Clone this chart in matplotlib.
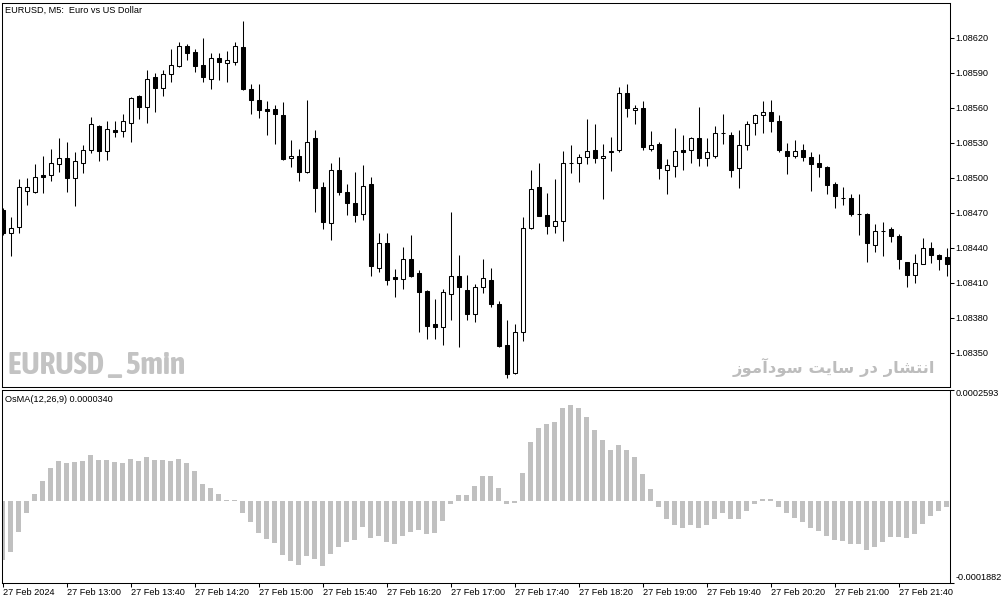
import matplotlib
matplotlib.use('Agg')
import matplotlib.pyplot as plt
from matplotlib.patches import Rectangle
from matplotlib import font_manager

plt.rcParams['font.family'] = ['Liberation Sans', 'DejaVu Sans']

# ---------------- data (EURUSD M5, 27 Feb 2024) ----------------
opens = [1.08472, 1.08453, 1.08458, 1.08489, 1.08488, 1.08502, 1.08502, 1.08512, 1.08517, 1.08500,
         1.08513, 1.08524, 1.08544, 1.08523, 1.08541, 1.08540, 1.08547, 1.08570, 1.08561, 1.08586,
         1.08577, 1.08589, 1.08596, 1.08613, 1.08608, 1.08597, 1.08585, 1.08603, 1.08598, 1.08599,
         1.08612, 1.08576, 1.08567, 1.08559, 1.08559, 1.08554, 1.08517, 1.08519, 1.08505, 1.08534,
         1.08492, 1.08461, 1.08507, 1.08488, 1.08478, 1.08469, 1.08495, 1.08423, 1.08444, 1.08415,
         1.08413, 1.08430, 1.08418, 1.08403, 1.08375, 1.08372, 1.08400, 1.08416, 1.08404, 1.08383,
         1.08406, 1.08412, 1.08392, 1.08357, 1.08333, 1.08368, 1.08457, 1.08492, 1.08468, 1.08459,
         1.08463, 1.08513, 1.08513, 1.08518, 1.08524, 1.08517, 1.08522, 1.08524, 1.08573, 1.08558,
         1.08560, 1.08525, 1.08529, 1.08507, 1.08510, 1.08524, 1.08524, 1.08534, 1.08517, 1.08519,
         1.08538, 1.08537, 1.08508, 1.08528, 1.08547, 1.08554, 1.08556, 1.08549, 1.08523, 1.08519,
         1.08524, 1.08518, 1.08513, 1.08509, 1.08495, 1.08483, 1.08483, 1.08469, 1.08469, 1.08442,
         1.08454, 1.08456, 1.08450, 1.08428, 1.08417, 1.08426, 1.08440, 1.08434, 1.08432]
highs = [1.08474, 1.08466, 1.08499, 1.08500, 1.08512, 1.08519, 1.08525, 1.08534, 1.08531, 1.08522,
         1.08528, 1.08552, 1.08545, 1.08549, 1.08549, 1.08555, 1.08569, 1.08571, 1.08592, 1.08590,
         1.08592, 1.08610, 1.08616, 1.08615, 1.08610, 1.08620, 1.08607, 1.08607, 1.08609, 1.08616,
         1.08634, 1.08580, 1.08580, 1.08566, 1.08562, 1.08565, 1.08532, 1.08525, 1.08567, 1.08541,
         1.08496, 1.08513, 1.08518, 1.08495, 1.08505, 1.08511, 1.08501, 1.08453, 1.08453, 1.08422,
         1.08441, 1.08451, 1.08421, 1.08404, 1.08396, 1.08405, 1.08471, 1.08434, 1.08417, 1.08409,
         1.08430, 1.08423, 1.08394, 1.08378, 1.08375, 1.08466, 1.08507, 1.08513, 1.08487, 1.08499,
         1.08523, 1.08528, 1.08520, 1.08550, 1.08546, 1.08529, 1.08535, 1.08578, 1.08580, 1.08562,
         1.08566, 1.08540, 1.08531, 1.08516, 1.08543, 1.08537, 1.08535, 1.08561, 1.08534, 1.08544,
         1.08555, 1.08539, 1.08541, 1.08549, 1.08555, 1.08566, 1.08567, 1.08554, 1.08530, 1.08532,
         1.08529, 1.08522, 1.08520, 1.08510, 1.08496, 1.08492, 1.08486, 1.08486, 1.08470, 1.08460,
         1.08462, 1.08458, 1.08452, 1.08428, 1.08435, 1.08448, 1.08445, 1.08435, 1.08440]
lows = [1.08451, 1.08433, 1.08453, 1.08477, 1.08487, 1.08487, 1.08497, 1.08505, 1.08488, 1.08476,
        1.08504, 1.08521, 1.08514, 1.08515, 1.08535, 1.08535, 1.08531, 1.08550, 1.08547, 1.08556,
        1.08570, 1.08582, 1.08595, 1.08601, 1.08591, 1.08582, 1.08576, 1.08584, 1.08582, 1.08597,
        1.08575, 1.08555, 1.08551, 1.08537, 1.08529, 1.08515, 1.08509, 1.08497, 1.08504, 1.08471,
        1.08456, 1.08447, 1.08485, 1.08468, 1.08462, 1.08464, 1.08416, 1.08419, 1.08408, 1.08398,
        1.08405, 1.08415, 1.08368, 1.08362, 1.08362, 1.08357, 1.08378, 1.08355, 1.08378, 1.08376,
        1.08401, 1.08389, 1.08355, 1.08328, 1.08332, 1.08360, 1.08456, 1.08467, 1.08452, 1.08453,
        1.08446, 1.08504, 1.08496, 1.08512, 1.08513, 1.08482, 1.08506, 1.08522, 1.08552, 1.08546,
        1.08524, 1.08523, 1.08499, 1.08486, 1.08501, 1.08507, 1.08513, 1.08510, 1.08510, 1.08517,
        1.08529, 1.08501, 1.08491, 1.08524, 1.08537, 1.08538, 1.08539, 1.08522, 1.08503, 1.08517,
        1.08514, 1.08489, 1.08501, 1.08486, 1.08474, 1.08477, 1.08467, 1.08451, 1.08428, 1.08436,
        1.08433, 1.08445, 1.08422, 1.08406, 1.08410, 1.08426, 1.08427, 1.08421, 1.08416]
closes = [1.08453, 1.08457, 1.08492, 1.08492, 1.08501, 1.08501, 1.08513, 1.08517, 1.08500, 1.08514,
          1.08524, 1.08546, 1.08523, 1.08542, 1.08539, 1.08549, 1.08568, 1.08561, 1.08585, 1.08577,
          1.08589, 1.08597, 1.08613, 1.08607, 1.08596, 1.08586, 1.08603, 1.08599, 1.08601, 1.08613,
          1.08576, 1.08567, 1.08558, 1.08557, 1.08555, 1.08516, 1.08519, 1.08505, 1.08531, 1.08491,
          1.08462, 1.08507, 1.08488, 1.08478, 1.08468, 1.08493, 1.08424, 1.08444, 1.08412, 1.08413,
          1.08430, 1.08416, 1.08402, 1.08373, 1.08372, 1.08402, 1.08416, 1.08406, 1.08383, 1.08406,
          1.08414, 1.08392, 1.08356, 1.08332, 1.08368, 1.08457, 1.08490, 1.08467, 1.08459, 1.08463,
          1.08513, 1.08513, 1.08518, 1.08523, 1.08517, 1.08519, 1.08523, 1.08573, 1.08560, 1.08560,
          1.08526, 1.08528, 1.08508, 1.08511, 1.08523, 1.08522, 1.08534, 1.08517, 1.08522, 1.08538,
          1.08538, 1.08507, 1.08528, 1.08546, 1.08554, 1.08556, 1.08549, 1.08524, 1.08519, 1.08523,
          1.08518, 1.08512, 1.08509, 1.08494, 1.08484, 1.08483, 1.08469, 1.08469, 1.08444, 1.08454,
          1.08454, 1.08450, 1.08430, 1.08417, 1.08427, 1.08440, 1.08434, 1.08430, 1.08426]

# OsMA(12,26,9) histogram values, in units of 1e-5
osma_e5 = [-13.5, -11.7, -7.0, -2.8, 1.6, 4.8, 7.7, 9.3, 8.8, 9.1,
           9.3, 10.7, 9.5, 9.5, 9.1, 8.8, 9.8, 9.3, 10.2, 9.5,
           9.5, 9.3, 9.8, 8.8, 7.0, 4.1, 3.2, 1.8, 0.4, 0.4,
           -2.6, -4.9, -7.3, -8.7, -9.6, -12.4, -13.8, -14.8, -12.7, -13.4,
           -15.0, -12.2, -10.5, -9.4, -8.9, -5.9, -8.4, -8.0, -9.4, -9.8,
           -8.0, -7.0, -6.6, -7.5, -7.3, -4.5, -0.7, 1.4, 1.4, 3.5,
           5.9, 5.9, 3.0, -0.7, -0.5, 6.6, 13.8, 16.9, 18.0, 18.3,
           21.6, 22.3, 21.6, 19.5, 16.6, 14.3, 12.0, 13.1, 12.0, 10.3,
           6.3, 2.8, -1.2, -4.0, -5.4, -6.1, -5.6, -6.1, -5.6, -4.0,
           -2.8, -4.2, -4.0, -2.3, -0.7, 0.5, 0.5, -1.2, -2.8, -3.8,
           -4.9, -6.1, -6.8, -8.0, -8.9, -9.1, -9.8, -9.8, -11.3, -10.5,
           -9.4, -8.2, -8.2, -8.4, -7.5, -5.2, -3.5, -2.3, -1.4]

price_ticks = [1.08350, 1.08380, 1.08410, 1.08440, 1.08470, 1.08500, 1.08530, 1.08560, 1.08590, 1.08620]
price_labels = ['1.08350', '1.08380', '1.08410', '1.08440', '1.08470', '1.08500', '1.08530',
                '1.08560', '1.08590', '1.08620']
time_pos = [0, 8, 16, 24, 32, 40, 48, 56, 64, 72, 80, 88, 96, 104, 112]
time_labels = ['27 Feb 2024', '27 Feb 13:00', '27 Feb 13:40', '27 Feb 14:20', '27 Feb 15:00',
               '27 Feb 15:40', '27 Feb 16:20', '27 Feb 17:00', '27 Feb 17:40', '27 Feb 18:20',
               '27 Feb 19:00', '27 Feb 19:40', '27 Feb 20:20', '27 Feb 21:00', '27 Feb 21:40']
osma_max, osma_min = 0.0002593, -0.0001882
osma_max_label, osma_min_label = '0.0002593', '-0.0001882'
title = 'EURUSD, M5:  Euro vs US Dollar'
osma_title = 'OsMA(12,26,9) 0.0000340'
watermark_left = 'EURUSD _ 5min'
# "انتشار در سایت سودآموز" written with Arabic presentation forms in visual order
watermark_right = '\uFEAF\uFEEE\uFEE3\uFE81\uFEA9\uFEEE\uFEB3 \uFE96\uFBFE\uFE8E\uFEB3 \uFEAD\uFEA9 \uFEAD\uFE8E\uFEB8\uFE98\uFEE7\uFE8D'

# pick the narrowest bold face available for the left watermark
narrow_family = None
for f in font_manager.fontManager.ttflist:
    nm = f.name.lower()
    if ('condensed' in nm or 'narrow' in nm) and f.weight in ('bold', 700, 'heavy', 800, 900):
        narrow_family = f.name
        break
if narrow_family is None:
    for f in font_manager.fontManager.ttflist:
        st = str(f.stretch).lower()
        if 'condensed' in st or 'narrow' in st or 'condensed' in f.name.lower():
            narrow_family = f.name
            break
if narrow_family is None:
    narrow_family = 'Liberation Sans'

# ---------------- layout ----------------
W, H = 1003, 603
fig = plt.figure(figsize=(W / 100, H / 100), dpi=100)
fig.patch.set_facecolor('white')


def rect(x0, y0, x1, y1):
    return [x0 / W, 1 - y1 / H, (x1 - x0) / W, (y1 - y0) / H]


ax1 = fig.add_axes(rect(1.5, 2.5, 950, 387))
ax2 = fig.add_axes(rect(1.5, 389.5, 950, 582.5))

n = len(opens)
xs = list(range(n))
xlim = (-0.15, 118.41)
lw = 0.75
fs = 6.6

# candles
ax1.vlines(xs, lows, highs, color='black', linewidth=lw, zorder=2)
bw = 0.52
for i in range(n):
    o, c = opens[i], closes[i]
    lo, hi = min(o, c), max(o, c)
    face = 'white' if c > o else 'black'
    ax1.add_patch(Rectangle((i - bw / 2, lo), bw, hi - lo, facecolor=face,
                            edgecolor='black', linewidth=lw, zorder=3))

ax1.set_xlim(*xlim)
ax1.set_ylim(1.083206, 1.086502)
ax1.yaxis.tick_right()
ax1.set_yticks(price_ticks)
ax1.set_yticklabels(price_labels)
ax1.set_xticks([])
ax1.tick_params(axis='y', direction='out', length=3, width=lw, labelsize=fs, pad=1.2, colors='black')

# OsMA histogram
osma_vals = [v * 1e-5 for v in osma_e5]
ax2.bar(xs, osma_vals, width=0.62, color='#c0c0c0', linewidth=0, zorder=2)
ax2.set_xlim(*xlim)
ax2.set_ylim(osma_min, osma_max)
ax2.yaxis.tick_right()
ax2.set_yticks([osma_min, osma_max])
ax2.set_yticklabels([osma_min_label, osma_max_label])
ax2.tick_params(axis='y', direction='out', length=3, width=lw, labelsize=fs, pad=1.2)
yl = ax2.get_yticklabels()
yl[0].set_va('bottom')
yl[1].set_va('top')
ax2.set_xticks(time_pos)
ax2.set_xticklabels(time_labels, ha='left')
ax2.tick_params(axis='x', direction='out', length=3, width=lw, labelsize=fs, pad=0.8)

for ax in (ax1, ax2):
    for s in ax.spines.values():
        s.set_linewidth(lw)
        s.set_color('black')

# texts
fig.text(5 / W, 1 - 10 / H, title, fontsize=fs, va='center', ha='left')
fig.text(5 / W, 1 - 399 / H, osma_title, fontsize=fs, va='center', ha='left')

wm = fig.text(8 / W, 1 - 366 / H, watermark_left, fontsize=20, fontweight='bold', color='#c3c3c3',
              family=[narrow_family, 'DejaVu Sans'], va='center', ha='left')
# fit the watermark to its width in the reference (about 177 px)
fig.canvas.draw()
wpx = wm.get_window_extent().width
wm.set_fontsize(20 * 177.0 / wpx)

fig.text(935 / W, 1 - 367 / H, watermark_right, fontsize=11.8, fontweight='bold', color='#bdbdbd',
         family=['DejaVu Sans'], va='center', ha='right')

fig.savefig('out.png', dpi=100, facecolor='white')
